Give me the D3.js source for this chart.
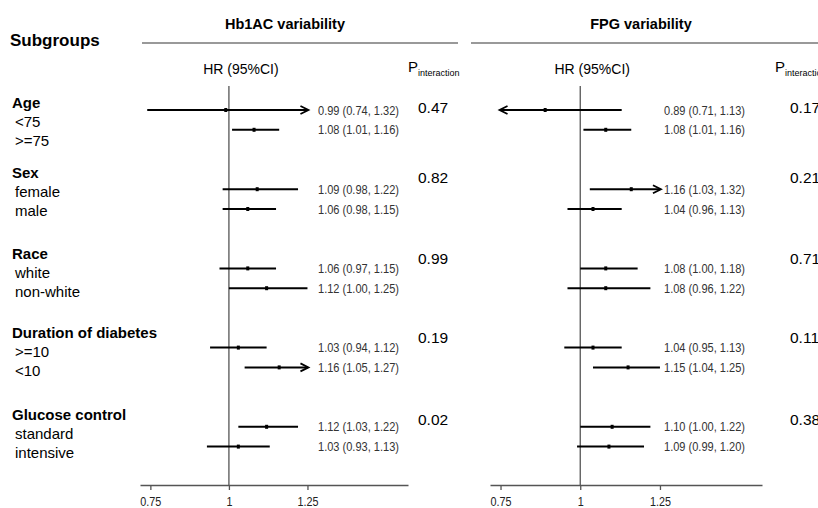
<!DOCTYPE html>
<html>
<head>
<meta charset="utf-8">
<script src="https://cdn.jsdelivr.net/npm/d3@7"></script>
<style>
  body { margin: 0; background: #fff; }
  svg { font-family: "Liberation Sans", Arial, sans-serif; }
</style>
</head>
<body>
<div id="chart"></div>
<script>
// Subgroup names
const groups = ["Age", "Sex", "Race", "Duration of diabetes", "Glucose control"];
const subgroups = [["<75", ">=75"], ["female", "male"], ["white", "non-white"], [">=10", "<10"], ["standard", "intensive"]];

// Hb1AC variability: hazard ratios and 95% CI
const hbaHR = [0.99, 1.08, 1.09, 1.06, 1.06, 1.12, 1.03, 1.16, 1.12, 1.03];
const hbaLo = [0.74, 1.01, 0.98, 0.98, 0.97, 1.00, 0.94, 1.05, 1.03, 0.93];
const hbaHi = [1.32, 1.16, 1.22, 1.15, 1.15, 1.25, 1.12, 1.27, 1.22, 1.13];
const hbaP = ["0.47", "0.82", "0.99", "0.19", "0.02"];

// FPG variability
const fpgHR = [0.89, 1.08, 1.16, 1.04, 1.08, 1.08, 1.04, 1.15, 1.10, 1.09];
const fpgLo = [0.71, 1.01, 1.03, 0.96, 1.00, 0.96, 0.95, 1.04, 1.00, 0.99];
const fpgHi = [1.13, 1.16, 1.32, 1.13, 1.18, 1.22, 1.13, 1.25, 1.22, 1.20];
const fpgP = ["0.17", "0.21", "0.71", "0.11", "0.38"];

const tickValues = [0.75, 1, 1.25];

const width = 818, height = 508;
const svg = d3.select("#chart").append("svg")
    .attr("width", width)
    .attr("height", height);

// rows: group g, row r -> slot g*4 + r
const y = d3.scaleLinear().domain([0, 17]).range([110, 110 + 17 * 19.8]);
const headerY = [108, 178, 259, 338, 420];   // baselines of group headings
const axisY = 485;

// Left column: subgroup labels
svg.append("text")
    .attr("x", 10).attr("y", 46)
    .attr("font-size", 17).attr("font-weight", "bold")
    .text("Subgroups");

groups.forEach(function(g, i) {
    svg.append("text")
        .attr("x", 12).attr("y", headerY[i])
        .attr("font-size", 15).attr("font-weight", "bold")
        .text(g);
    subgroups[i].forEach(function(s, j) {
        svg.append("text")
            .attr("x", 15).attr("y", headerY[i] + 18.5 + j * 19)
            .attr("font-size", 15)
            .text(s);
    });
});

function fmt(v) { return v.toFixed(2); }

function drawPanel(title, hr, lo, hi, pvals, opt) {
    const x = d3.scaleLinear().domain([0.717, 1.57]).range(opt.range);
    const g = svg.append("g");

    // Title and rule
    g.append("text")
        .attr("x", opt.titleX).attr("y", 29)
        .attr("text-anchor", "middle")
        .attr("font-size", 14.5).attr("font-weight", "bold")
        .text(title);
    g.append("line")
        .attr("x1", opt.rule[0]).attr("x2", opt.rule[1])
        .attr("y1", 43).attr("y2", 43)
        .attr("stroke", "#777").attr("stroke-width", 1.5);

    // column headers
    g.append("text")
        .attr("x", x(1) + 12).attr("y", 74)
        .attr("text-anchor", "middle")
        .attr("font-size", 14)
        .text("HR (95%CI)");
    const p = g.append("text")
        .attr("x", opt.pX).attr("y", 72)
        .attr("font-size", 15);
    p.append("tspan").text("P");
    p.append("tspan").attr("font-size", 9).attr("dy", 4).text("interaction");

    // reference line at HR = 1
    g.append("line")
        .attr("x1", x(1)).attr("x2", x(1))
        .attr("y1", 86).attr("y2", axisY)
        .attr("stroke", "#555").attr("stroke-width", 1.3);

    // x axis
    const axis = g.append("g")
        .attr("transform", "translate(0," + axisY + ")")
        .call(d3.axisBottom(x).tickValues(tickValues).tickSize(5).tickSizeOuter(0)
            .tickFormat(d3.format("")));
    axis.select(".domain").attr("stroke", "#555").attr("stroke-width", 1.3);
    axis.selectAll(".tick line").attr("stroke", "#555").attr("stroke-width", 1.3);
    axis.selectAll(".tick text")
        .attr("font-size", 12).attr("fill", "#222").attr("dy", "1.05em")
        .attr("transform", "scale(0.9,1)")
        .attr("x", 0);

    // CI bars
    const rows = hr.map(function(v, i) {
        return { hr: v, lo: lo[i], hi: hi[i], slot: Math.floor(i / 2) * 4 + (i % 2) };
    });
    const rg = g.selectAll("g.row").data(rows).enter().append("g").attr("class", "row");

    rg.append("line")
        .attr("x1", d => d.lo < 0.735 ? x(0.75) : x(d.lo))
        .attr("x2", d => d.hi > 1.255 ? x(1.25) : x(d.hi))
        .attr("y1", d => y(d.slot)).attr("y2", d => y(d.slot))
        .attr("stroke", "#000").attr("stroke-width", 2);

    rg.filter(d => d.hi > 1.255).append("path")
        .attr("d", d => {
            const tx = x(1.25) + 1, ty = y(d.slot);
            return "M" + (tx - 8) + "," + (ty - 4) + "L" + tx + "," + ty + "L" + (tx - 8) + "," + (ty + 4);
        })
        .attr("fill", "none").attr("stroke", "#000").attr("stroke-width", 1.8);
    rg.filter(d => d.lo < 0.735).append("path")
        .attr("d", d => {
            const tx = x(0.75) - 1, ty = y(d.slot);
            return "M" + (tx + 8) + "," + (ty - 4) + "L" + tx + "," + ty + "L" + (tx + 8) + "," + (ty + 4);
        })
        .attr("fill", "none").attr("stroke", "#000").attr("stroke-width", 1.8);

    rg.append("rect")
        .attr("x", d => x(d.hr) - 1.5).attr("y", d => y(d.slot) - 2)
        .attr("width", 3).attr("height", 4)
        .attr("fill", "#000");

    rg.append("text")
        .attr("x", opt.textX).attr("y", d => y(d.slot))
        .attr("dy", "0.36em")
        .attr("font-size", 12.5).attr("fill", "#333")
        .attr("textLength", 81).attr("lengthAdjust", "spacingAndGlyphs")
        .text(d => fmt(d.hr) + " (" + fmt(d.lo) + ", " + fmt(d.hi) + ")");

    // interaction p-values
    g.selectAll("text.pval").data(pvals).enter().append("text")
        .attr("class", "pval")
        .attr("x", opt.pValX).attr("y", (d, i) => headerY[i] + 5)
        .attr("font-size", 15.5)
        .text(d => d);
}

drawPanel("Hb1AC variability", hbaHR, hbaLo, hbaHi, hbaP,
    { range: [140, 408], titleX: 285, rule: [142, 458], textX: 318, pX: 408, pValX: 418 });
drawPanel("FPG variability", fpgHR, fpgLo, fpgHi, fpgP,
    { range: [490, 762], titleX: 641, rule: [471, 818], textX: 664, pX: 775, pValX: 790 });
</script>
</body>
</html>
